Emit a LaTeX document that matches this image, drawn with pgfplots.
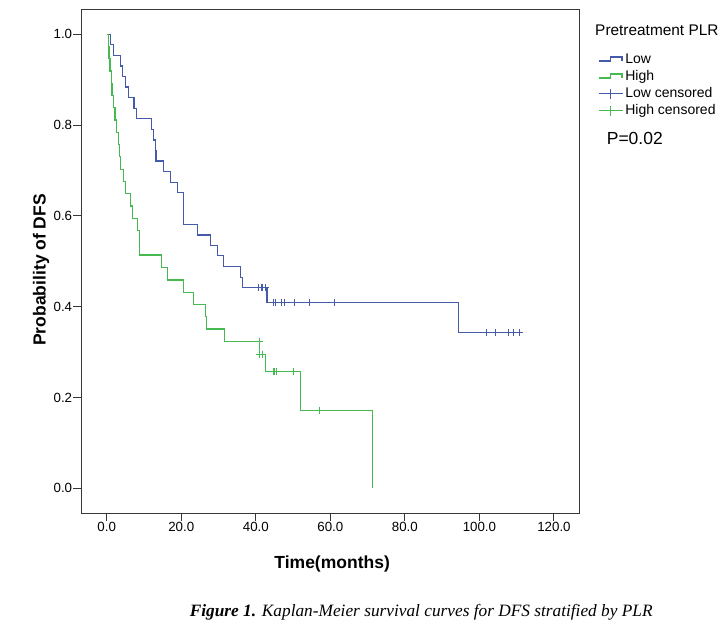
\documentclass[border=0pt]{standalone}
\usepackage{fontspec}
\setmainfont{Liberation Sans}
\newfontfamily\serifcap{Liberation Serif}
\usepackage{pgfplots}
\pgfplotsset{compat=1.18}
\definecolor{lowc}{RGB}{70,90,170}
\definecolor{highc}{RGB}{70,185,80}
\definecolor{axc}{RGB}{55,55,55}
\pgfplotsset{
  stepleg/.style={legend image code/.code={\draw[##1] (0pt,-1pt) -- (11.7pt,-1pt) -- (11.7pt,3pt) -- (23.3pt,3pt) -- (23.3pt,-1pt);}},
  censleg/.style={legend image code/.code={\draw[##1] (0pt,0pt) -- (24pt,0pt); \draw[##1] (12pt,-5pt) -- (12pt,5pt);}},
}
\begin{document}
\begin{tikzpicture}[x=1pt,y=1pt]
\path[use as bounding box] (0,0) rectangle (718,627);
\begin{axis}[
  at={(81pt,113.7pt)}, anchor=south west,
  scale only axis, width=498.3pt, height=504pt,
  xmin=-6.9, xmax=126.8, ymin=-0.055, ymax=1.055,
  xtick={0,20,40,60,80,100,120}, ytick={0,0.2,0.4,0.6,0.8,1},
  tick align=outside, major tick length=7.7pt,
  xtick pos=bottom, ytick pos=left,
  axis line style={axc, line width=1pt},
  every tick/.style={axc, line width=1pt},
  tick label style={font=\fontsize{13.3}{16}\selectfont, inner sep=1pt},
  /pgf/number format/fixed, /pgf/number format/fixed zerofill,
  /pgf/number format/precision=1, /pgf/number format/assume math mode=true,
  xlabel={\textbf{Time(months)}}, ylabel={\textbf{Probability of DFS}},
  label style={font=\fontsize{17.5}{20}\selectfont},
  xlabel style={at={(axis description cs:0.504,-0.1091)}, anchor=base},
  ylabel style={at={(axis description cs:-0.0712,0.483)}, anchor=base, rotate=0},
  legend style={at={(1.0375,0.9127)}, anchor=north west, draw=none, fill=none,
    inner sep=0pt, row sep=4pt, column sep=2pt, font=\fontsize{14}{16}\selectfont,
    nodes={inner sep=0pt, text height=10pt, text depth=3pt}},
  legend cell align=left,
]
\addplot[const plot, lowc, line width=1.2pt, stepleg]
coordinates {
(0,1.0) (1.07,0.977) (1.8,0.953) (3.6,0.930) (4.3,0.907) (5.1,0.884) (5.8,0.860)
(7.3,0.837) (8.0,0.814) (12.1,0.791) (12.5,0.767) (13.0,0.744) (13.2,0.721)
(15.2,0.698) (17.2,0.674) (18.9,0.651) (20.6,0.581) (24.3,0.558) (27.9,0.535)
(29.7,0.512) (31.4,0.488) (35.8,0.465) (36.4,0.442) (43.0,0.41) (94.3,0.343) (111.0,0.343)
};
\addlegendentry{Low}
\addplot[const plot, highc, line width=1.2pt, stepleg]
coordinates {
(0,1.0) (0.4,0.973) (0.6,0.946) (0.9,0.919) (1.2,0.892) (1.4,0.865) (1.8,0.838)
(2.2,0.811) (2.7,0.784) (3.1,0.757) (3.4,0.730) (3.8,0.703) (4.5,0.676) (5.1,0.649)
(6.4,0.622) (6.9,0.595) (8.2,0.568) (8.9,0.514) (14.6,0.486) (16.3,0.459) (20.6,0.432)
(23.3,0.405) (26.4,0.378) (26.7,0.351) (31.6,0.324) (41.0,0.295) (42.7,0.258)
(51.9,0.172) (71.3,0.0)
};
\addlegendentry{High}
\addplot[only marks, mark=+, mark size=3.5pt, lowc, line width=1pt, censleg]
coordinates {
(40.8,0.442) (41.4,0.442) (41.7,0.442) (42.6,0.442)
(44.7,0.41) (45.3,0.41) (46.9,0.41) (47.6,0.41) (50.3,0.41) (54.3,0.41) (61.0,0.41)
(101.9,0.343) (104.3,0.343) (107.7,0.343) (109.1,0.343) (110.7,0.343)
};
\addlegendentry{Low censored}
\addplot[only marks, mark=+, mark size=3.5pt, highc, line width=1pt, censleg]
coordinates {
(40.9,0.324) (41.1,0.295) (41.7,0.295) (44.7,0.258) (45.1,0.258) (45.6,0.258)
(50.1,0.258) (57.0,0.172)
};
\addlegendentry{High censored}
\end{axis}
\node[anchor=base west, font=\fontsize{15.4}{18}\selectfont] at (591.7,591) {Pretreatment PLR};
\node[anchor=base west, font=\fontsize{17.5}{20}\selectfont] at (603.3,482) {P=0.02};
\node[anchor=base, font=\serifcap\fontsize{17.3}{20}\selectfont] at (421.2,10.3)
  {\textbf{\textit{Figure 1.}} \textit{Kaplan-Meier survival curves for DFS stratified by PLR}};
\end{tikzpicture}
\end{document}
